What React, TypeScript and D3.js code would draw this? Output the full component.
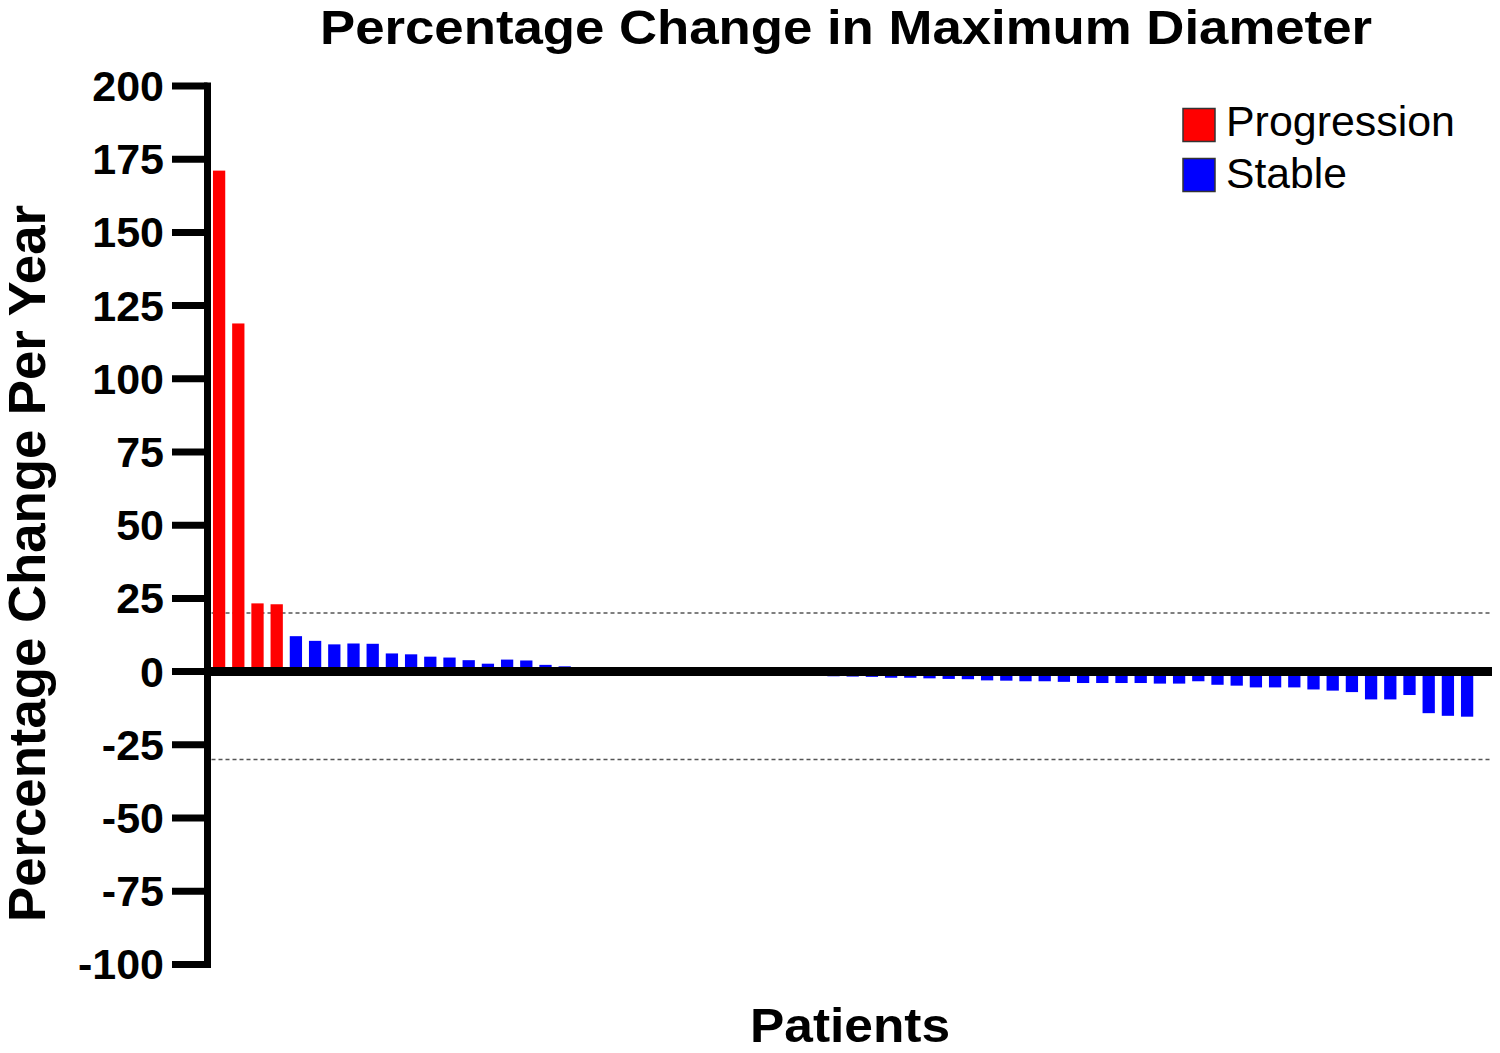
import React from "react";
import * as d3 from "d3";

const patientValues: number[] = [
  171.1, 118.9, 23.3, 23.0,
  12.1, 10.5, 9.3, 9.6, 9.5, 6.2, 5.9, 5.1, 4.8, 3.9, 2.7, 4.1, 3.8, 2.3, 1.8,
  1.2, 1.0, 0.8, 0.6, 0.5, 0.4, 0.2, 0.1, 0.0, -0.2, -0.4, -0.6, -0.9,
  -1.6, -1.7, -1.8,
  -2.1, -2.1, -2.3, -2.5, -2.6, -3.0, -3.1, -3.3, -3.3, -3.5,
  -3.9, -3.9, -3.9, -3.9, -4.1, -4.1, -3.3, -4.5, -4.8, -5.4,
  -5.4, -5.4, -6.1, -6.5, -7.0, -9.5, -9.5, -8.0, -14.2, -15.1, -15.4,
];
const progressionCount = 4;
const groups = ["Progression", "Stable"];
const groupColors = ["#FF0000", "#0000FF"];
const yTicks = [200, 175, 150, 125, 100, 75, 50, 25, 0, -25, -50, -75, -100];
const thresholds = [20, -30];

const FONT = "'Liberation Sans', Arial, Helvetica, sans-serif";

export default function App() {
  const ids = patientValues.map((_, i) => String(i));
  const y = d3.scaleLinear().domain([-100, 200]).range([964.4, 86]);
  const x = d3
    .scaleBand<string>()
    .domain(ids)
    .range([209.5, 209.5 + 66 * 19.2])
    .paddingInner(0.36)
    .paddingOuter(0.18);
  const axisX = 207.5;
  const xEnd = 1492;
  const y0 = y(0);

  return (
    <svg
      width={1500}
      height={1053}
      style={{ position: "absolute", left: 0, top: 0, display: "block", background: "#fff" }}
    >
      <rect x={0} y={0} width={1500} height={1053} fill="#fff" />
      {thresholds.map((t) => (
        <line
          key={t}
          x1={axisX + 4}
          x2={xEnd}
          y1={y(t)}
          y2={y(t)}
          stroke="#555"
          strokeWidth={1.5}
          strokeDasharray="4,3"
        />
      ))}
      {patientValues.map((v, i) => {
        const top = Math.min(y(v), y0);
        const h = Math.abs(y(v) - y0);
        return (
          <rect
            key={i}
            x={x(String(i))}
            y={top}
            width={x.bandwidth()}
            height={h}
            fill={i < progressionCount ? groupColors[0] : groupColors[1]}
          />
        );
      })}
      <line x1={axisX} x2={xEnd} y1={y0} y2={y0} stroke="#000" strokeWidth={9} />
      <line x1={axisX} x2={axisX} y1={y(200) - 3.5} y2={y(-100) + 3.5} stroke="#000" strokeWidth={7} />
      {yTicks.map((t) => (
        <g key={t}>
          <line x1={172} x2={axisX} y1={y(t)} y2={y(t)} stroke="#000" strokeWidth={7} />
          <text
            x={164}
            y={y(t) + 15}
            textAnchor="end"
            fontFamily={FONT}
            fontWeight="bold"
            fontSize={43}
            fill="#000"
          >
            {t}
          </text>
        </g>
      ))}
      <text
        x={320}
        y={44}
        textLength={1052}
        lengthAdjust="spacingAndGlyphs"
        fontFamily={FONT}
        fontWeight="bold"
        fontSize={48}
        fill="#000"
      >
        Percentage Change in Maximum Diameter
      </text>
      <text
        transform={`translate(45, 922) rotate(-90)`}
        x={0}
        y={0}
        textLength={717}
        lengthAdjust="spacingAndGlyphs"
        fontFamily={FONT}
        fontWeight="bold"
        fontSize={51}
        fill="#000"
      >
        Percentage Change Per Year
      </text>
      <text
        x={750}
        y={1042}
        textLength={200}
        lengthAdjust="spacingAndGlyphs"
        fontFamily={FONT}
        fontWeight="bold"
        fontSize={48}
        fill="#000"
      >
        Patients
      </text>
      {groups.map((g, i) => (
        <g key={g}>
          <rect
            x={1183}
            y={108.5 + i * 50}
            width={32}
            height={33}
            fill={groupColors[i]}
            stroke="#333"
            strokeWidth={1.5}
          />
          <text
            x={1226}
            y={136 + i * 52}
            textLength={i === 0 ? 229 : 121}
            lengthAdjust="spacingAndGlyphs"
            fontFamily={FONT}
            fontSize={43}
            fill="#000"
          >
            {g}
          </text>
        </g>
      ))}
    </svg>
  );
}
